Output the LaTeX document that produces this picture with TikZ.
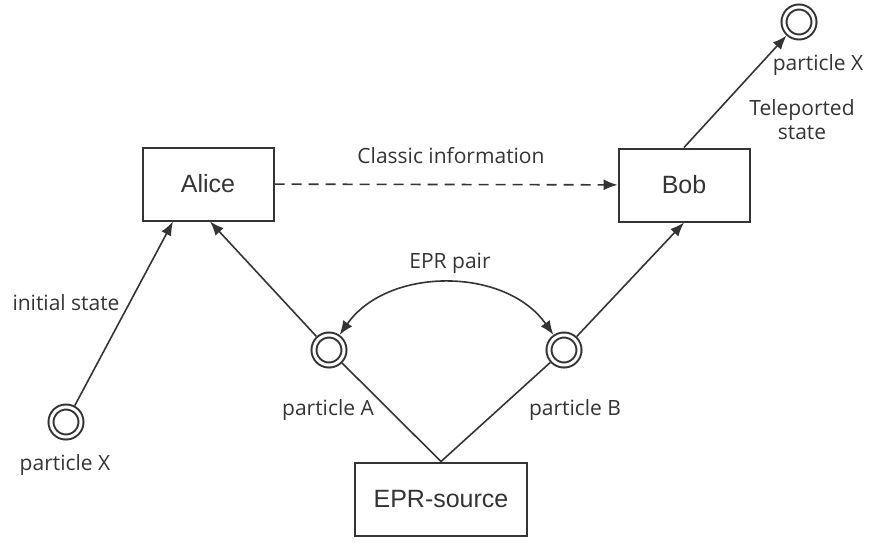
\documentclass[tikz,border=0pt]{standalone}
\usepackage{fontspec}
\setmainfont{Open Sans}
\newfontfamily\boxfont{Liberation Sans}
\usetikzlibrary{arrows.meta}
\definecolor{ink}{RGB}{52,52,52}

\begin{document}
\begin{tikzpicture}
[%%%%%%%%%%%%%%%%%%%%%%%%%%%%%%
x=1pt,y=-1pt,
box/.style={rectangle,draw=ink,line width=2pt,minimum width=131pt,minimum height=73pt,font=\boxfont\fontsize{25}{29}\selectfont,text=ink},
particle/.style={circle,draw=ink,double,double distance=3pt,line width=2pt,minimum size=30pt,inner sep=0pt,outer sep=3.5pt},
lbl/.style={font=\fontsize{21}{24}\selectfont,text=ink,align=center},
link/.style={draw=ink,line width=1.6pt},
arr/.style={link,-{Latex[length=14pt,width=11pt]}},
]%%%%%%%%%%%%%%%%%%%%%%%%%%%%%%
\useasboundingbox (0,0) rectangle (869,542);

\node[box] (alice) at (208,184){Alice};
\node[box] (bob) at (684,185){Bob};
\node[box,minimum width=172pt] (source) at (441,499){EPR-source};

\node[particle] (partX) at (66,422){};
\node[particle] (partA) at (329,350){};
\node[particle] (partB) at (564,350){};
\node[particle] (partXb) at (799,22){};

\node[lbl] (lblX) at (65,465){particle X};
\node[lbl] (lblA) at (328,410){particle A};
\node[lbl] (lblB) at (575,410){particle B};
\node[lbl] (lblXb) at (818,65){particle X};
\node[lbl] (lblinit) at (66,303){initial state};
\node[lbl] (lbltele) at (802,120){Teleported\\state};
\node[lbl] (lblclassic) at (451,156){Classic information};
\node[lbl] (lblepr) at (450,263){EPR pair};

\draw[arr] (partX) -- ([xshift=-35pt]alice.south);
\draw[arr] (partA) -- ([xshift=2pt]alice.south);
\draw[arr] (partB) -- (bob.south);
\draw[arr] (bob.north) -- (partXb);
\draw[arr,dash pattern=on 10pt off 7pt] (alice) -- (bob);
\draw[link] (source.north) -- (partA);
\draw[link] (source.north) -- (partB);
\draw[link,{Latex[length=14pt,width=11pt]}-{Latex[length=14pt,width=11pt]}] (partA) to[bend left=55] (partB);
\end{tikzpicture}
\end{document}
